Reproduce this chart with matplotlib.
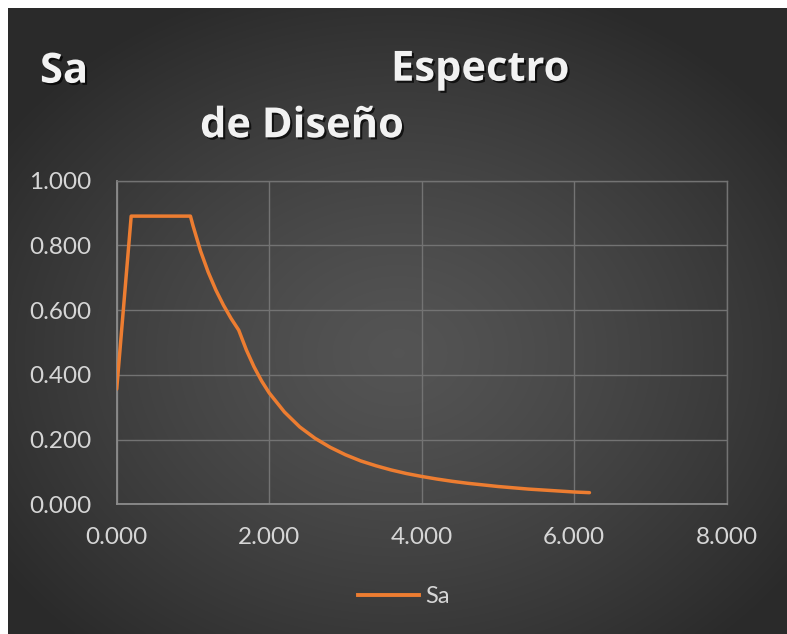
import numpy as np
import matplotlib
matplotlib.use("Agg")
import matplotlib.pyplot as plt
import matplotlib.patheffects as pe
from matplotlib.lines import Line2D

# Design spectrum: period T (s) vs spectral acceleration Sa (g)
periodo = [0.000, 0.190, 0.300, 0.500, 0.700, 0.967, 1.000, 1.100, 1.200,
           1.300, 1.400, 1.500, 1.600, 1.700, 1.800, 1.900, 2.000, 2.200,
           2.400, 2.600, 2.800, 3.000, 3.200, 3.400, 3.600, 3.800, 4.000,
           4.200, 4.400, 4.600, 4.800, 5.000, 5.200, 5.400, 5.600, 5.800,
           6.000, 6.200]
sa = [0.356, 0.890, 0.890, 0.890, 0.890, 0.890, 0.861, 0.782, 0.717,
      0.662, 0.615, 0.574, 0.538, 0.477, 0.425, 0.381, 0.344, 0.285,
      0.239, 0.204, 0.176, 0.153, 0.134, 0.119, 0.106, 0.095, 0.086,
      0.078, 0.071, 0.065, 0.060, 0.055, 0.051, 0.047, 0.044, 0.041,
      0.038, 0.036]

x_ticks = [0, 2, 4, 6, 8]
y_ticks = [0.0, 0.2, 0.4, 0.6, 0.8, 1.0]
serie = "Sa"

W, H = 787, 634
fig = plt.figure(figsize=(W / 100, H / 100), dpi=100, facecolor="white")

# dark radial-gradient chart area
bg = fig.add_axes([8 / W, 0, (W - 8) / W, (H - 8) / H])
bg.set_axis_off()
ny, nx = 300, 380
yy, xx = np.mgrid[0:ny, 0:nx]
cx, cy = nx * 0.50, ny * 0.55
r = np.sqrt(((xx - cx) / (nx * 0.62)) ** 2 + ((yy - cy) / (ny * 0.62)) ** 2)
r = np.clip(r, 0, 1)
c_in, c_out = 0.33, 0.165
val = c_in - (c_in - c_out) * r ** 1.3
img = np.dstack([val, val, val])
bg.imshow(img, aspect="auto", extent=[0, 1, 0, 1], interpolation="bicubic")
bg.set_xlim(0, 1)
bg.set_ylim(0, 1)

ax = fig.add_axes([116.7 / W, 1 - 504.3 / H, 610 / W, 323.8 / H])
ax.set_facecolor("none")
ax.plot(periodo, sa, color="#ed7d31", lw=2.5, solid_joinstyle="round",
        solid_capstyle="round", zorder=3)
ax.set_xlim(0, 8)
ax.set_ylim(0, 1)
ax.set_xticks(x_ticks)
ax.set_yticks(y_ticks)
ax.set_xticklabels([f"{v:.3f}" for v in x_ticks])
ax.set_yticklabels([f"{v:.3f}" for v in y_ticks])
grid_c = "#737373"
ax.grid(True, color=grid_c, lw=1.0, zorder=1)
for s in ax.spines.values():
    s.set_color(grid_c)
    s.set_linewidth(1.0)
ax.spines["left"].set_color("#8c8c8c")
ax.spines["bottom"].set_color("#8c8c8c")
ax.spines["left"].set_linewidth(1.3)
ax.spines["bottom"].set_linewidth(1.3)
ax.tick_params(length=0, colors="#d6d6d6", labelsize=17.5)
ax.tick_params(axis="y", pad=18)
ax.tick_params(axis="x", pad=16)
for lab in ax.get_xticklabels() + ax.get_yticklabels():
    lab.set_family("Lato")

# title
tfx = dict(family="Open Sans", weight="bold", size=30, color="#f2f2f2",
           va="baseline", ha="left",
           path_effects=[pe.SimplePatchShadow(offset=(1.5, -1.5),
                                              shadow_rgbFace="black",
                                              alpha=0.7),
                         pe.Normal()])
fig.text(40 / W, 1 - 82.7 / H, "Sa", **tfx)
fig.text(391 / W, 1 - 80.7 / H, "Espectro", **tfx)
fig.text(200 / W, 1 - 137.3 / H, "de Diseño", **tfx)

# legend
handle = Line2D([], [], color="#ed7d31", lw=2.8)
leg = fig.legend([handle], [serie], loc="center",
                 bbox_to_anchor=(404 / W, 1 - 596.7 / H), frameon=False,
                 handlelength=2.6, handletextpad=0.25,
                 prop={"family": "Lato", "size": 17})
for t in leg.get_texts():
    t.set_color("#d6d6d6")

fig.savefig("out.png", dpi=100, facecolor="white")
